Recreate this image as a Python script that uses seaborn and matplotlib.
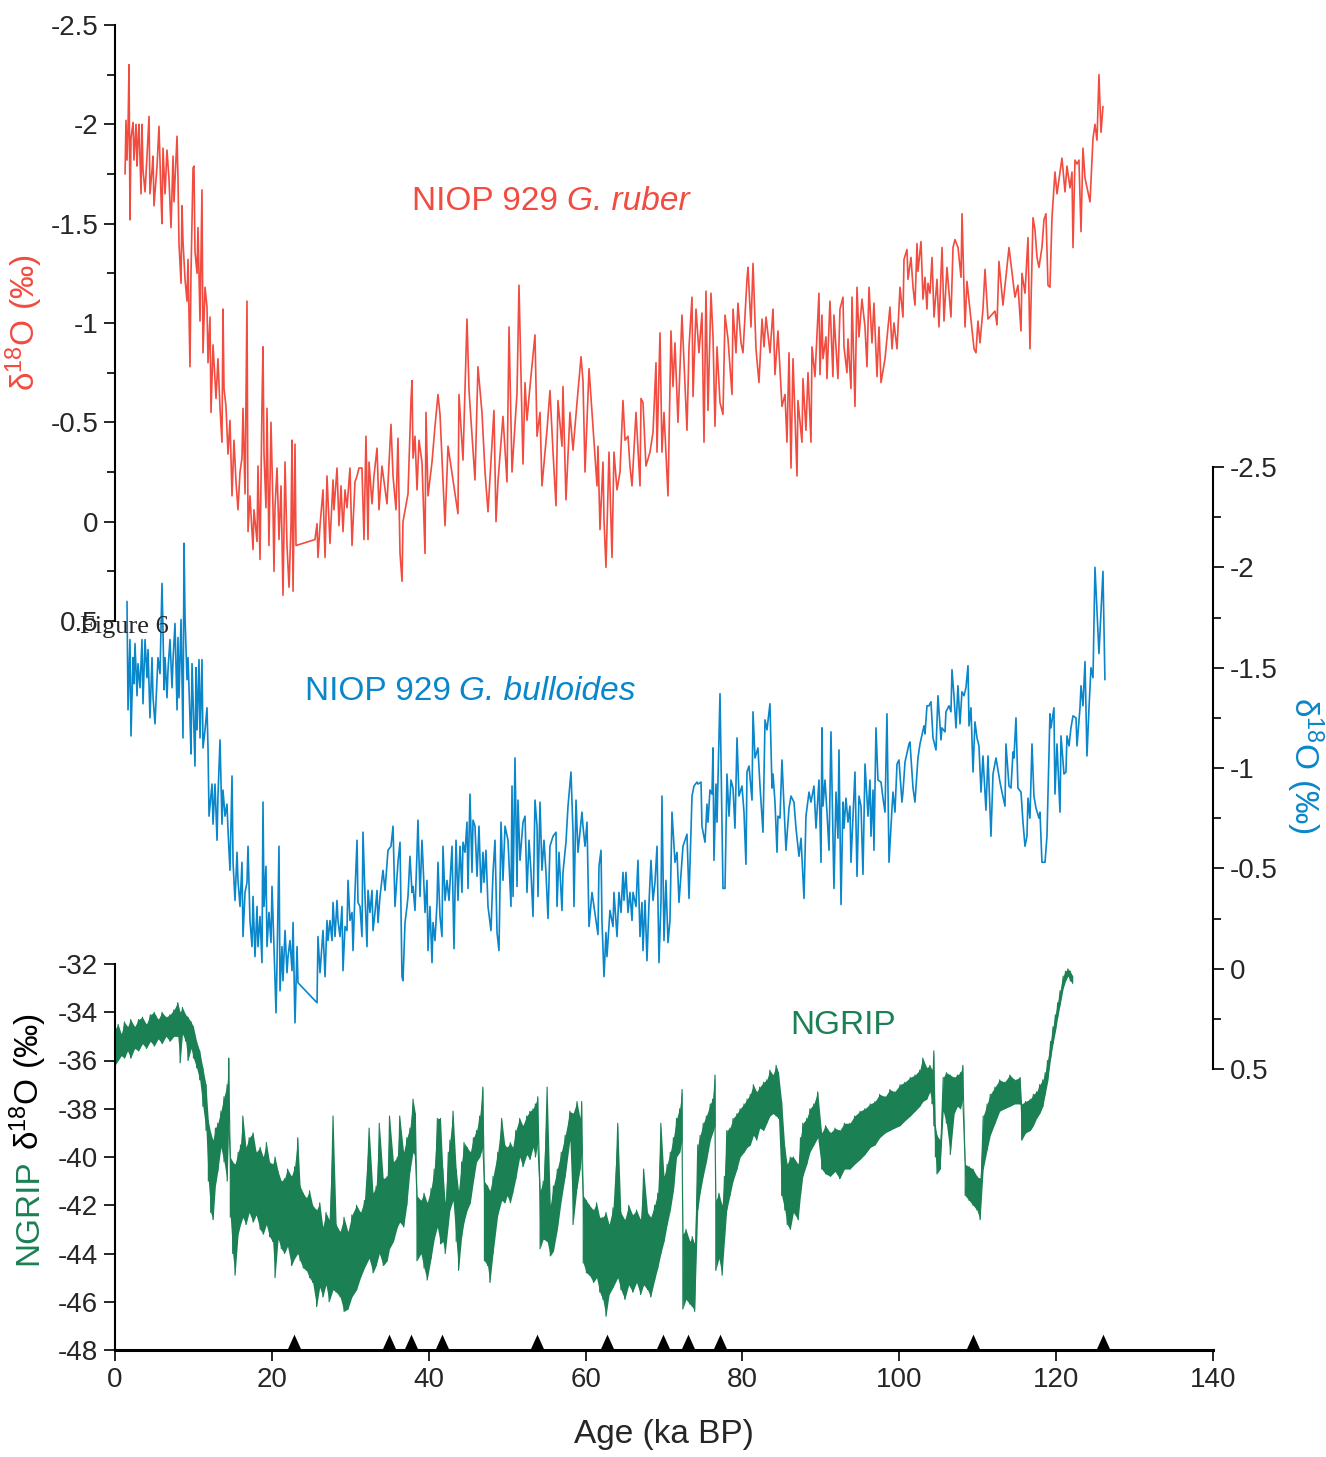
import numpy as np
import matplotlib.pyplot as plt
import seaborn as sns
from matplotlib.path import Path
from matplotlib.ticker import MultipleLocator, FuncFormatter

sns.set_style('ticks')
plt.rcParams['font.family'] = ['Liberation Sans', 'DejaVu Sans']
plt.rcParams['mathtext.fontset'] = 'custom'
plt.rcParams['mathtext.rm'] = 'Liberation Sans'
plt.rcParams['mathtext.it'] = 'Liberation Sans:italic'
plt.rcParams['axes.unicode_minus'] = False

RED = '#F24B3F'
BLUE = '#0A86CA'
GREEN = '#1B8054'

# --- NIOP 929 G. ruber (age ka BP, d18O permil) ---
red_age = [
    1.28, 1.40, 1.53, 1.66, 1.79, 1.91, 2.04, 2.30, 2.42, 2.68,
    2.81, 2.93, 3.06, 3.32, 3.44, 3.57, 3.83, 4.08, 4.34, 4.46,
    4.72, 4.85, 4.97, 5.36, 5.61, 5.87, 5.99, 6.12, 6.38, 6.63,
    6.89, 7.14, 7.40, 7.52, 7.91, 8.03, 8.16, 8.42, 8.54, 8.67,
    8.93, 9.18, 9.31, 9.56, 9.69, 9.95, 10.07, 10.20, 10.46, 10.58,
    10.84, 11.09, 11.22, 11.48, 11.73, 11.86, 12.11, 12.24, 12.50, 12.88,
    13.13, 13.39, 13.64, 13.77, 13.90, 14.15, 14.41, 14.66, 14.92, 15.17,
    15.43, 15.68, 15.94, 16.19, 16.32, 16.58, 16.83, 16.96, 17.21, 17.60,
    17.72, 18.11, 18.23, 18.49, 18.74, 18.87, 19.00, 19.25, 19.38, 19.63,
    19.89, 20.15, 20.27, 20.40, 20.66, 20.91, 21.17, 21.42, 21.68, 21.93,
    22.19, 22.44, 22.57, 22.70, 22.95, 23.08, 25.50, 25.76, 25.88, 26.14,
    26.52, 26.78, 27.03, 27.41, 27.80, 27.92, 28.31, 28.56, 28.82, 29.07,
    29.33, 29.58, 29.96, 30.22, 30.60, 30.86, 31.11, 31.49, 31.75, 32.00,
    32.26, 32.39, 32.77, 33.02, 33.41, 33.66, 34.04, 34.68, 35.19, 35.45,
    35.83, 36.08, 36.34, 36.60, 36.72, 37.36, 37.74, 37.87, 38.00, 38.25,
    38.51, 38.76, 39.14, 39.53, 39.65, 39.91, 40.42, 40.80, 41.18, 41.44,
    42.08, 42.46, 43.73, 43.86, 44.37, 44.88, 45.14, 45.90, 46.28, 46.79,
    47.18, 47.56, 48.32, 48.58, 48.83, 49.47, 49.98, 50.24, 50.62, 51.26,
    51.51, 52.02, 52.28, 52.53, 52.91, 53.55, 53.81, 54.19, 54.44, 55.08,
    55.46, 55.85, 56.23, 56.48, 56.99, 57.12, 57.50, 58.01, 58.40, 58.91,
    59.42, 59.67, 59.93, 60.44, 61.46, 61.58, 61.84, 62.22, 62.35, 62.60,
    62.99, 63.37, 63.62, 64.01, 64.39, 64.77, 65.03, 65.41, 65.66, 65.92,
    66.43, 66.94, 67.07, 67.32, 67.70, 68.21, 68.60, 68.98, 69.11, 69.49,
    69.74, 70.00, 70.51, 70.89, 71.15, 71.40, 71.78, 72.29, 72.93, 73.19,
    73.57, 73.70, 74.08, 74.46, 74.84, 75.10, 75.35, 75.61, 75.99, 76.25,
    76.50, 76.76, 77.14, 77.52, 77.78, 78.16, 78.67, 78.80, 79.18, 79.43,
    79.82, 80.07, 80.58, 80.71, 81.09, 81.35, 81.73, 82.11, 82.50, 82.75,
    83.01, 83.52, 83.90, 84.15, 84.53, 85.04, 85.43, 85.68, 85.94, 86.19,
    86.45, 86.96, 87.08, 87.59, 87.72, 88.10, 88.36, 88.74, 88.87, 89.25,
    89.76, 89.89, 90.14, 90.27, 90.65, 90.78, 91.16, 91.54, 91.67, 92.18,
    92.44, 92.82, 92.95, 93.33, 93.46, 93.84, 93.97, 94.35, 94.61, 94.86,
    95.24, 95.63, 95.88, 96.14, 96.52, 96.77, 97.16, 97.41, 97.67, 98.18,
    98.81, 99.07, 99.32, 99.71, 100.09, 100.47, 100.60, 100.98, 101.11, 101.49,
    101.75, 102.00, 102.26, 102.38, 102.77, 103.02, 103.28, 103.53, 103.66, 103.92,
    104.17, 104.43, 104.81, 105.06, 105.45, 105.70, 106.08, 106.59, 106.85, 107.10,
    107.49, 107.87, 108.00, 108.38, 108.63, 109.53, 109.78, 110.03, 110.29, 110.67,
    110.93, 111.31, 112.20, 112.46, 112.71, 113.22, 113.99, 114.75, 115.13, 115.52,
    115.64, 116.03, 116.41, 116.66, 117.05, 117.30, 117.56, 117.81, 118.19, 118.45,
    118.70, 118.96, 119.21, 119.47, 119.85, 120.11, 120.74, 121.13, 121.38, 121.77,
    122.02, 122.15, 122.40, 122.66, 122.91, 123.17, 123.42, 123.68, 124.32, 124.70,
    124.95, 125.21, 125.46, 125.72, 125.97,
]
red_d18o = [
    -1.75, -2.02, -1.82, -1.98, -2.30, -1.52, -1.93, -2.01, -1.82, -2.00,
    -1.79, -1.91, -2.00, -1.65, -2.00, -1.77, -1.66, -1.84, -2.04, -1.65,
    -1.77, -1.84, -1.59, -1.79, -1.99, -1.63, -1.50, -1.88, -1.65, -1.87,
    -1.72, -1.48, -1.84, -1.61, -1.94, -1.73, -1.40, -1.20, -1.59, -1.41,
    -1.22, -1.11, -1.32, -0.78, -1.25, -1.78, -1.79, -1.36, -1.25, -1.48,
    -1.01, -1.67, -0.85, -1.18, -1.08, -0.80, -1.03, -0.55, -0.89, -0.62,
    -0.82, -0.57, -0.40, -1.07, -0.67, -0.58, -0.34, -0.51, -0.13, -0.41,
    -0.20, -0.06, -0.25, -0.32, -0.57, -0.14, -1.11, 0.05, -0.13, 0.14,
    -0.06, 0.10, -0.28, 0.19, -0.58, -0.88, -0.34, -0.07, -0.57, 0.12,
    -0.50, -0.06, 0.25, -0.07, -0.27, 0.09, -0.18, 0.37, -0.30, 0.12,
    0.33, 0.02, -0.41, 0.35, -0.39, 0.12, 0.09, 0.01, 0.18, 0.02,
    -0.16, 0.18, -0.23, 0.11, -0.21, -0.06, -0.27, 0.02, -0.18, 0.05,
    -0.16, -0.07, -0.27, 0.12, -0.20, -0.23, -0.27, -0.27, 0.09, -0.43,
    0.09, -0.30, -0.09, -0.23, -0.37, -0.06, -0.28, -0.09, -0.49, -0.23,
    -0.06, -0.42, 0.16, 0.30, 0.00, -0.14, -0.61, -0.71, -0.32, -0.43,
    -0.16, -0.41, -0.30, 0.16, -0.55, -0.13, -0.30, -0.48, -0.64, -0.54,
    0.02, -0.38, -0.04, -0.64, -0.31, -1.02, -0.66, -0.21, -0.78, -0.55,
    -0.25, -0.05, -0.56, 0.00, -0.20, -0.53, -0.20, -0.98, -0.25, -0.65,
    -1.19, -0.29, -0.70, -0.51, -0.68, -0.94, -0.43, -0.55, -0.18, -0.46,
    -0.66, -0.35, -0.08, -0.61, -0.38, -0.68, -0.11, -0.55, -0.36, -0.60,
    -0.83, -0.71, -0.25, -0.77, -0.18, -0.38, 0.04, -0.30, -0.01, 0.23,
    -0.35, 0.18, -0.35, -0.16, -0.25, -0.61, -0.41, -0.43, -0.28, -0.18,
    -0.55, -0.18, -0.62, -0.60, -0.28, -0.35, -0.45, -0.80, -0.35, -0.95,
    -0.35, -0.55, -0.13, -0.96, -0.68, -0.90, -0.50, -1.04, -0.46, -0.88,
    -1.13, -0.63, -1.07, -0.85, -1.05, -0.40, -1.16, -0.56, -1.15, -0.93,
    -0.48, -0.88, -0.60, -0.54, -1.04, -0.92, -0.64, -1.07, -0.85, -1.10,
    -0.90, -0.85, -1.22, -1.28, -0.98, -1.30, -0.87, -0.70, -1.02, -0.88,
    -1.03, -0.85, -1.07, -0.74, -0.96, -0.58, -0.64, -0.40, -0.85, -0.27,
    -0.82, -0.23, -0.61, -0.40, -0.72, -0.46, -0.75, -0.40, -0.88, -0.73,
    -1.15, -0.74, -1.04, -0.82, -0.93, -0.72, -1.11, -0.73, -1.04, -0.72,
    -1.07, -1.13, -0.88, -0.75, -0.92, -0.67, -1.13, -0.58, -1.18, -0.93,
    -1.12, -0.98, -0.78, -1.18, -0.90, -1.10, -0.73, -0.98, -0.70, -0.82,
    -1.08, -0.87, -1.00, -0.87, -1.18, -1.03, -1.32, -1.37, -1.22, -1.33,
    -1.18, -1.09, -1.40, -1.26, -1.41, -1.12, -1.23, -1.07, -1.20, -1.15,
    -1.33, -1.03, -1.22, -0.98, -1.38, -1.01, -1.28, -1.03, -1.38, -1.42,
    -1.38, -1.23, -1.55, -0.98, -1.21, -0.87, -0.85, -1.01, -0.90, -1.07,
    -1.27, -1.02, -1.06, -0.99, -1.31, -1.09, -1.38, -1.13, -1.19, -0.96,
    -1.25, -1.15, -1.43, -0.87, -1.53, -1.47, -1.33, -1.28, -1.38, -1.52,
    -1.55, -1.19, -1.18, -1.53, -1.76, -1.65, -1.83, -1.66, -1.79, -1.68,
    -1.76, -1.38, -1.82, -1.80, -1.82, -1.46, -1.88, -1.73, -1.61, -1.93,
    -2.00, -1.92, -2.25, -1.96, -2.09,
]

# --- NIOP 929 G. bulloides ---
blue_age = [
    1.53, 1.66, 1.91, 2.04, 2.30, 2.42, 2.55, 2.81, 2.93, 3.19,
    3.44, 3.57, 3.83, 4.08, 4.21, 4.46, 4.72, 4.85, 5.10, 5.36,
    5.48, 5.74, 5.99, 6.12, 6.25, 6.38, 6.63, 6.76, 7.01, 7.27,
    7.40, 7.65, 7.91, 8.03, 8.16, 8.42, 8.54, 8.67, 8.80, 8.93,
    9.18, 9.31, 9.56, 9.69, 9.82, 9.95, 10.20, 10.33, 10.46, 10.71,
    10.84, 11.09, 11.22, 11.48, 11.73, 11.86, 11.99, 12.37, 12.50, 12.75,
    13.01, 13.13, 13.39, 13.64, 13.77, 14.03, 14.28, 14.41, 14.66, 14.92,
    15.05, 15.30, 15.56, 15.68, 15.94, 16.19, 16.32, 16.58, 16.83, 16.96,
    17.21, 17.47, 17.60, 17.85, 18.11, 18.23, 18.49, 18.74, 18.87, 19.00,
    19.25, 19.38, 19.63, 19.89, 20.02, 20.27, 20.53, 20.66, 20.91, 21.04,
    21.29, 21.42, 21.68, 21.93, 22.06, 22.31, 22.57, 22.70, 22.95, 23.21,
    23.33, 25.76, 25.88, 26.14, 26.52, 26.78, 27.03, 27.16, 27.41, 27.67,
    27.80, 28.05, 28.31, 28.43, 28.69, 28.94, 29.07, 29.33, 29.58, 29.71,
    29.96, 30.22, 30.35, 30.60, 30.86, 30.98, 31.24, 31.49, 31.62, 31.88,
    32.13, 32.26, 32.51, 32.77, 32.90, 33.15, 33.41, 33.53, 33.79, 34.17,
    34.43, 34.81, 35.19, 35.45, 35.70, 36.08, 36.34, 36.59, 36.72, 36.98,
    37.23, 37.36, 37.61, 37.87, 38.00, 38.25, 38.51, 38.63, 38.89, 39.14,
    39.27, 39.53, 39.78, 39.91, 40.16, 40.42, 40.55, 40.80, 41.06, 41.18,
    41.44, 41.69, 41.82, 42.08, 42.33, 42.59, 42.97, 43.22, 43.48, 43.73,
    43.99, 44.24, 44.37, 44.63, 44.88, 45.01, 45.26, 45.52, 45.65, 45.90,
    46.16, 46.41, 46.67, 46.92, 47.05, 47.30, 47.56, 47.94, 48.20, 48.45,
    48.71, 48.96, 49.22, 49.47, 49.73, 50.11, 50.49, 50.62, 50.75, 51.00,
    51.26, 51.38, 51.64, 52.02, 52.28, 52.53, 52.79, 53.04, 53.30, 53.55,
    53.81, 53.93, 54.19, 54.44, 54.70, 54.95, 55.21, 55.46, 55.85, 56.23,
    56.36, 56.61, 56.99, 57.12, 57.50, 57.76, 58.14, 58.40, 58.52, 58.78,
    59.03, 59.54, 59.67, 59.93, 60.18, 60.44, 60.82, 61.58, 61.71, 61.97,
    62.09, 62.35, 62.60, 62.73, 63.11, 63.50, 63.62, 64.01, 64.26, 64.52,
    64.77, 64.90, 65.15, 65.41, 65.66, 65.92, 66.05, 66.43, 66.68, 66.94,
    67.19, 67.32, 67.58, 67.83, 68.09, 68.34, 68.60, 68.85, 69.11, 69.36,
    69.62, 69.74, 70.00, 70.25, 70.51, 70.76, 71.02, 71.40, 71.66, 71.91,
    72.42, 72.93, 73.19, 73.57, 73.82, 74.21, 74.33, 74.72, 74.84, 75.23,
    75.48, 75.61, 75.86, 76.12, 76.25, 76.37, 76.63, 76.76, 77.14, 77.52,
    77.78, 78.03, 78.29, 78.54, 78.80, 79.05, 79.31, 79.56, 79.94, 80.20,
    80.45, 80.58, 80.84, 81.22, 81.35, 81.60, 81.98, 82.24, 82.62, 82.88,
    83.13, 83.51, 83.77, 83.90, 84.15, 84.41, 84.53, 84.79, 85.04, 85.30,
    85.55, 85.94, 86.19, 86.57, 86.83, 87.21, 87.47, 87.85, 88.10, 88.49,
    88.74, 89.12, 89.38, 89.76, 90.02, 90.14, 90.27, 90.53, 90.78, 91.04,
    91.29, 91.67, 91.93, 92.18, 92.31, 92.57, 92.82, 92.95, 93.20, 93.46,
    93.71, 93.84, 94.10, 94.35, 94.61, 94.86, 95.12, 95.37, 95.63, 96.01,
    96.26, 96.39, 96.65, 96.77, 97.03, 97.28, 97.67, 97.92, 98.18, 98.43,
    98.69, 99.07, 99.20, 99.45, 99.71, 99.96, 100.34, 100.47, 100.73, 101.24,
    101.36, 101.75, 102.00, 102.38, 102.64, 103.15, 103.28, 103.53, 103.79, 104.04,
    104.30, 104.68, 104.93, 105.32, 105.44, 105.83, 105.95, 106.34, 106.59, 106.72,
    106.97, 107.23, 107.48, 107.74, 107.99, 108.25, 108.50, 108.76, 108.89, 109.14,
    109.40, 109.65, 109.91, 110.16, 110.42, 110.67, 111.05, 111.31, 111.69, 111.95,
    112.33, 112.84, 113.09, 113.48, 113.60, 113.99, 114.24, 114.50, 114.62, 114.88,
    115.13, 115.52, 115.77, 116.03, 116.28, 116.41, 116.66, 116.92, 117.17, 117.43,
    117.81, 117.94, 118.19, 118.58, 118.83, 119.21, 119.34, 119.72, 119.85, 120.11,
    120.49, 120.62, 121.00, 121.25, 121.38, 121.64, 121.89, 122.15, 122.53, 122.66,
    123.04, 123.17, 123.42, 123.68, 123.93, 124.19, 124.44, 124.70, 124.95, 125.20,
    125.46, 125.97, 126.22,
]
blue_d18o = [
    -1.83, -1.29, -1.64, -1.16, -1.55, -1.42, -1.62, -1.36, -1.52, -1.40,
    -1.64, -1.32, -1.64, -1.45, -1.59, -1.25, -1.55, -1.35, -1.22, -1.44,
    -1.55, -1.47, -1.92, -1.69, -1.39, -1.55, -1.35, -1.49, -1.64, -1.40,
    -1.54, -1.72, -1.29, -1.65, -1.35, -1.74, -1.44, -1.15, -2.12, -1.75,
    -1.44, -1.55, -1.25, -1.07, -1.52, -1.35, -1.01, -1.50, -1.19, -1.54,
    -1.15, -1.54, -1.10, -1.19, -1.30, -1.10, -0.76, -0.92, -0.72, -0.92,
    -0.64, -0.86, -1.14, -0.72, -0.89, -0.76, -0.82, -0.69, -0.49, -0.96,
    -0.53, -0.34, -0.58, -0.44, -0.31, -0.53, -0.16, -0.38, -0.43, -0.61,
    -0.24, -0.11, -0.36, -0.06, -0.31, -0.11, -0.26, -0.03, -0.83, -0.31,
    -0.51, -0.11, -0.28, -0.13, -0.41, -0.11, 0.22, -0.03, -0.61, 0.11,
    -0.11, 0.06, -0.19, 0.02, -0.06, -0.14, 0.01, -0.23, 0.27, -0.11,
    0.07, 0.17, -0.16, 0.02, -0.19, 0.04, -0.24, -0.14, -0.24, -0.14,
    -0.33, -0.16, -0.34, -0.24, -0.16, -0.31, 0.01, -0.21, -0.19, -0.44,
    -0.24, -0.28, -0.09, -0.38, -0.64, -0.33, -0.31, -0.16, -0.68, -0.36,
    -0.11, -0.39, -0.28, -0.39, -0.19, -0.28, -0.39, -0.23, -0.36, -0.49,
    -0.39, -0.59, -0.61, -0.71, -0.31, -0.53, -0.63, 0.04, 0.06, -0.23,
    -0.31, -0.36, -0.56, -0.38, -0.41, -0.29, -0.58, -0.74, -0.36, -0.64,
    -0.53, -0.28, -0.44, -0.09, -0.31, -0.03, -0.23, -0.14, -0.33, -0.53,
    -0.26, -0.16, -0.61, -0.34, -0.44, -0.34, -0.61, -0.10, -0.64, -0.34,
    -0.61, -0.38, -0.63, -0.58, -0.73, -0.40, -0.87, -0.48, -0.74, -0.71,
    -0.46, -0.71, -0.38, -0.58, -0.43, -0.59, -0.31, -0.19, -0.48, -0.64,
    -0.18, -0.09, -0.73, -0.44, -0.71, -0.64, -0.31, -0.91, -0.36, -1.05,
    -0.41, -0.84, -0.54, -0.73, -0.76, -0.38, -0.64, -0.48, -0.26, -0.84,
    -0.71, -0.36, -0.83, -0.49, -0.64, -0.48, -0.25, -0.61, -0.66, -0.68,
    -0.31, -0.58, -0.29, -0.48, -0.63, -0.81, -0.98, -0.68, -0.31, -0.84,
    -0.58, -0.78, -0.71, -0.61, -0.73, -0.21, -0.38, -0.17, -0.51, -0.59,
    -0.24, 0.04, -0.18, -0.06, -0.29, -0.21, -0.38, -0.16, -0.38, -0.28,
    -0.48, -0.34, -0.48, -0.28, -0.38, -0.24, -0.38, -0.31, -0.54, -0.16,
    -0.33, -0.09, -0.34, -0.04, -0.33, -0.54, -0.34, -0.43, -0.61, -0.03,
    -0.34, -0.86, -0.14, -0.44, -0.13, -0.24, -0.78, -0.53, -0.58, -0.33,
    -0.61, -0.67, -0.35, -0.86, -0.91, -0.93, -0.92, -0.93, -0.71, -0.63,
    -0.82, -0.73, -0.89, -0.87, -1.10, -0.54, -0.92, -0.73, -1.37, -0.40,
    -0.40, -0.97, -0.76, -0.94, -0.90, -0.70, -1.15, -0.86, -0.91, -0.78,
    -0.52, -0.98, -1.01, -0.84, -1.28, -1.05, -1.10, -0.91, -0.68, -1.24,
    -1.19, -1.32, -0.90, -0.97, -0.83, -0.58, -0.76, -0.75, -1.04, -0.81,
    -0.59, -0.80, -0.86, -0.83, -0.70, -0.56, -0.65, -0.35, -0.76, -0.88,
    -0.83, -0.91, -0.70, -0.94, -0.53, -1.20, -0.81, -0.94, -0.78, -0.59,
    -1.18, -0.40, -0.88, -0.65, -1.09, -0.32, -0.83, -0.70, -0.85, -0.73,
    -0.81, -0.53, -0.76, -0.98, -0.46, -0.86, -0.81, -0.47, -1.02, -0.76,
    -0.94, -0.66, -0.89, -0.59, -1.20, -0.94, -0.93, -0.85, -0.78, -1.27,
    -0.53, -0.80, -0.88, -0.78, -1.02, -1.04, -0.83, -0.88, -1.03, -1.12,
    -1.13, -0.90, -0.83, -1.05, -1.12, -1.21, -1.17, -1.31, -1.31, -1.33,
    -1.15, -1.09, -1.36, -1.14, -1.20, -1.18, -1.28, -1.31, -1.28, -1.49,
    -1.36, -1.20, -1.41, -1.22, -1.38, -1.36, -1.40, -1.51, -1.21, -1.30,
    -0.98, -1.23, -1.15, -1.11, -0.88, -1.06, -0.79, -1.06, -0.66, -0.97,
    -1.05, -0.93, -0.88, -0.81, -1.12, -0.91, -0.90, -1.08, -1.05, -1.25,
    -0.90, -0.88, -0.73, -0.61, -0.66, -0.85, -0.75, -1.12, -0.86, -0.80,
    -0.75, -0.78, -0.53, -0.53, -0.66, -1.27, -1.20, -1.30, -0.87, -1.12,
    -0.78, -1.16, -0.97, -0.98, -1.16, -1.11, -1.20, -1.26, -1.25, -1.11,
    -1.30, -1.41, -1.31, -1.53, -1.06, -1.30, -1.50, -1.45, -2.00, -1.79,
    -1.57, -1.98, -1.44,
]

# --- NGRIP: upper / lower edge of the dense record, read at each age ---
ngrip_age = [
    0.0, 0.4, 0.8, 1.2, 1.6, 2.0, 2.5, 3.0, 3.5, 4.0,
    4.5, 5.0, 5.5, 6.0, 6.5, 7.0, 7.5, 8.0, 8.3, 8.6,
    9.0, 9.3, 9.7, 10.0, 10.4, 10.8, 11.2, 11.6, 11.9, 12.2,
    12.5, 12.8, 13.1, 13.5, 13.9, 14.3, 14.5, 14.7, 15.0, 15.3,
    15.7, 16.0, 16.3, 16.7, 17.1, 17.6, 18.0, 18.5, 18.9, 19.3,
    19.7, 20.1, 20.4, 20.8, 21.2, 21.6, 22.0, 22.5, 22.9, 23.3,
    23.6, 24.0, 24.4, 24.8, 25.2, 25.7, 26.1, 26.5, 26.9, 27.3,
    27.8, 28.2, 28.7, 29.2, 29.7, 30.2, 30.8, 31.3, 31.8, 32.4,
    32.9, 33.3, 33.7, 34.2, 34.7, 35.0, 35.5, 36.0, 36.3, 36.8,
    37.2, 37.6, 38.0, 38.3, 38.5, 39.0, 39.4, 39.8, 40.3, 40.7,
    41.1, 41.5, 41.8, 42.1, 42.5, 42.7, 43.1, 43.5, 43.8, 44.2,
    44.5, 44.9, 45.3, 45.7, 46.1, 46.5, 46.9, 47.1, 47.5, 47.8,
    48.2, 48.8, 49.3, 49.7, 50.0, 50.4, 50.7, 51.1, 51.6, 52.0,
    52.5, 52.9, 53.3, 53.6, 53.9, 54.2, 54.6, 55.1, 55.5, 55.9,
    56.4, 56.9, 57.4, 58.0, 58.4, 58.9, 59.3, 59.5, 59.7, 60.1,
    60.5, 61.0, 61.4, 61.8, 62.2, 62.6, 63.0, 63.5, 64.1, 64.5,
    65.0, 65.5, 66.0, 66.5, 67.0, 67.4, 67.9, 68.3, 68.8, 69.2,
    69.6, 70.0, 70.4, 70.8, 71.2, 71.6, 72.0, 72.3, 72.4, 72.8,
    73.3, 73.6, 73.9, 74.3, 74.6, 75.0, 75.4, 75.9, 76.2, 76.5,
    76.6, 77.0, 77.4, 77.7, 78.0, 78.4, 78.8, 79.3, 79.7, 80.2,
    80.6, 81.0, 81.4, 81.8, 82.2, 82.7, 83.1, 83.5, 83.9, 84.3,
    84.6, 85.0, 85.4, 85.7, 86.1, 86.5, 87.1, 87.4, 87.7, 88.2,
    88.6, 89.1, 89.6, 90.1, 90.6, 91.2, 91.8, 92.4, 93.0, 93.7,
    94.3, 95.0, 95.6, 96.3, 96.9, 97.5, 98.2, 98.8, 99.4, 100.1,
    100.7, 101.4, 102.0, 102.6, 103.0, 103.5, 103.9, 104.2, 104.4, 104.6,
    104.8, 105.2, 105.6, 106.0, 106.5, 107.0, 107.4, 107.8, 108.1, 108.4,
    108.9, 109.4, 109.9, 110.3, 110.7, 111.2, 111.6, 112.2, 112.8, 113.4,
    114.1, 114.7, 115.4, 115.6, 116.1, 116.7, 117.1, 117.5, 117.9, 118.3,
    118.6, 118.9, 119.3, 119.6, 119.9, 120.2, 120.5, 120.9, 121.2, 121.5,
    121.8, 122.1,
]
ngrip_high = [
    -34.7, -34.5, -34.9, -34.4, -34.6, -34.3, -34.6, -34.3, -34.2, -34.5,
    -34.1, -34.0, -34.3, -34.0, -34.2, -34.1, -33.9, -33.6, -34.0, -33.8,
    -34.1, -34.2, -34.4, -34.6, -35.2, -35.6, -36.3, -37.0, -38.5, -39.0,
    -39.3, -38.8, -38.6, -38.1, -37.5, -37.0, -35.9, -40.0, -40.2, -40.3,
    -39.8, -39.5, -38.3, -39.6, -39.2, -39.0, -39.8, -39.6, -40.0, -39.4,
    -40.2, -40.3, -40.0, -40.6, -41.0, -40.9, -40.5, -40.8, -40.4, -39.2,
    -41.2, -41.5, -41.7, -41.4, -42.0, -42.2, -41.9, -42.9, -42.3, -42.6,
    -38.3, -42.8, -43.1, -42.5, -43.1, -42.4, -42.0, -42.3, -41.8, -38.8,
    -41.5, -41.2, -38.6, -40.9, -40.8, -38.3, -40.2, -40.0, -38.3, -39.8,
    -39.2, -38.8, -37.6, -38.2, -41.6, -41.8, -41.5, -41.9, -41.3, -40.5,
    -38.4, -38.4, -40.5, -41.9, -39.8, -39.3, -38.1, -40.5, -41.4, -40.2,
    -39.4, -39.6, -39.8, -39.2, -38.9, -38.3, -37.1, -41.0, -41.2, -41.4,
    -40.8, -39.8, -38.4, -39.5, -39.6, -39.4, -39.6, -38.9, -38.4, -38.7,
    -38.3, -38.1, -38.0, -37.8, -37.5, -41.4, -41.0, -37.1, -42.0, -41.2,
    -40.5, -39.8, -39.1, -38.1, -38.2, -37.7, -38.4, -37.7, -41.6, -41.8,
    -42.0, -42.2, -41.9, -42.5, -42.5, -42.3, -42.8, -42.1, -38.6, -42.3,
    -42.6, -42.0, -42.4, -42.2, -42.6, -40.5, -42.3, -42.5, -42.0, -41.5,
    -38.6, -40.8, -40.3, -39.8, -39.2, -38.4, -38.0, -37.2, -43.2, -43.0,
    -43.5, -43.3, -43.6, -39.5, -39.1, -38.6, -38.3, -37.8, -37.6, -36.6,
    -41.8, -41.5, -42.0, -40.8, -38.9, -38.8, -38.4, -38.2, -38.0, -37.8,
    -37.6, -37.4, -37.0, -37.3, -37.1, -36.9, -36.8, -36.4, -36.6, -36.2,
    -36.5, -37.7, -39.6, -40.3, -40.0, -40.0, -40.3, -39.2, -38.6, -38.4,
    -38.0, -37.8, -37.3, -39.0, -38.7, -39.0, -38.8, -38.9, -38.6, -38.6,
    -38.3, -38.1, -38.0, -37.8, -37.7, -37.4, -37.5, -37.2, -37.3, -37.0,
    -36.9, -36.7, -36.6, -36.4, -35.9, -36.3, -36.2, -36.4, -35.6, -38.7,
    -39.1, -39.3, -36.7, -36.5, -36.6, -36.7, -36.6, -36.5, -36.2, -40.3,
    -40.4, -40.5, -40.8, -40.9, -38.3, -37.8, -37.4, -37.1, -36.8, -36.9,
    -36.6, -36.8, -36.7, -37.8, -37.7, -37.6, -37.4, -37.3, -37.0, -36.8,
    -36.5, -36.0, -35.2, -34.6, -34.1, -33.6, -33.1, -32.5, -32.3, -32.2,
    -32.3, -32.5,
]
ngrip_low = [
    -36.2, -36.0, -35.8, -35.9, -35.6, -35.9, -35.5, -35.6, -35.3, -35.5,
    -35.2, -35.4, -35.1, -35.3, -35.0, -35.2, -35.0, -35.0, -36.1, -34.9,
    -35.2, -36.0, -35.5, -35.9, -36.3, -36.8, -37.9, -38.9, -41.0, -42.3,
    -42.6, -41.2, -40.6, -39.6, -40.2, -41.0, -38.5, -42.5, -44.0, -44.9,
    -43.2, -42.8, -42.5, -42.8, -42.3, -42.7, -42.4, -43.0, -43.2, -42.8,
    -43.3, -43.5, -45.0, -43.4, -43.8, -44.0, -43.7, -44.5, -44.2, -44.0,
    -44.3, -44.6, -44.7, -45.0, -45.2, -46.2, -45.4, -45.8, -45.3, -46.0,
    -45.5, -45.6, -45.8, -46.4, -46.3, -45.8, -45.5, -45.0, -44.6, -44.2,
    -44.8, -44.5, -44.0, -44.5, -44.3, -43.8, -43.5, -42.9, -42.7, -42.9,
    -42.0, -40.6, -39.8, -40.0, -44.3, -44.0, -44.6, -45.1, -44.2, -43.4,
    -42.9, -43.6, -43.5, -44.0, -42.8, -42.2, -41.8, -43.5, -44.7, -43.3,
    -42.7, -42.2, -41.9, -41.0, -40.2, -40.0, -39.6, -44.3, -44.5, -45.2,
    -44.0, -42.4, -41.8, -41.9, -41.6, -41.9, -41.5, -40.9, -40.0, -40.4,
    -39.9, -40.1, -39.6, -40.0, -39.4, -43.8, -43.4, -43.5, -44.1, -43.9,
    -43.0, -41.8, -40.8, -39.3, -42.8, -41.3, -40.5, -39.8, -44.4, -44.8,
    -44.9, -45.2, -45.0, -45.6, -45.9, -46.6, -45.7, -45.4, -45.0, -45.5,
    -45.9, -45.3, -45.6, -45.2, -45.7, -45.3, -45.5, -45.8, -45.1, -44.6,
    -44.0, -43.5, -42.8, -42.2, -41.4, -40.0, -39.8, -39.3, -46.3, -45.9,
    -46.1, -46.2, -46.4, -42.2, -41.5, -40.8, -40.2, -39.3, -39.0, -38.7,
    -44.7, -44.2, -44.9, -43.5, -42.2, -41.6, -41.0, -40.5, -40.0, -39.8,
    -39.6, -39.5, -39.1, -39.3, -38.8, -38.9, -38.6, -38.3, -38.2, -38.3,
    -38.4, -41.6, -42.2, -42.8, -43.0, -42.3, -42.6, -41.6, -40.8, -40.3,
    -39.8, -39.5, -39.2, -40.5, -40.7, -40.8, -40.6, -40.9, -40.5, -40.5,
    -40.3, -40.1, -39.9, -39.6, -39.5, -39.2, -39.0, -38.9, -38.8, -38.7,
    -38.5, -38.3, -38.1, -37.9, -37.7, -37.6, -37.3, -37.8, -38.7, -40.0,
    -40.7, -40.5, -38.1, -38.6, -39.9, -38.2, -37.9, -38.0, -37.6, -41.6,
    -41.8, -42.0, -42.2, -42.6, -40.5, -39.7, -39.1, -38.6, -38.1, -38.0,
    -37.9, -37.8, -37.8, -39.3, -39.0, -38.9, -38.7, -38.4, -38.2, -37.9,
    -37.4, -36.9, -35.9, -35.3, -34.8, -34.2, -33.7, -33.0, -32.7, -32.5,
    -32.7, -32.8,
]

# tie points (triangles on the age axis)
tie_ages = [22.8, 34.9, 37.7, 41.7, 53.8, 62.7, 69.9, 73.1, 77.1, 109.4, 126.0]

# ---------------- figure ----------------
W, H = 1326, 1457
fig = plt.figure(figsize=(W / 100, H / 100), dpi=100)


def px_axes(x0, y0, x1, y1):
    return fig.add_axes([x0 / W, 1 - y1 / H, (x1 - x0) / W, (y1 - y0) / H])


ax_g = px_axes(115, 964, 1213, 1350)
ax_b = px_axes(115, 467, 1213, 1069)
ax_r = px_axes(115, 25, 1213, 621)

fmt = FuncFormatter(lambda v, p: f'{v + 0:g}')
for ax in (ax_g, ax_b, ax_r):
    ax.set_facecolor('none')
    ax.set_xlim(0, 140)
    for s in ax.spines.values():
        s.set_linewidth(1.5)
        s.set_color('black')

TICK_FS = 20
LAB_FS = 24


def label_with_italic(ax, x, y, plain, italic, color):
    # plain part followed by an italic species name
    t = ax.text(x, y, plain, color=color, fontsize=LAB_FS, va='center', ha='left')
    ax.annotate(italic, xy=(1, 0.5), xycoords=t, xytext=(6, 0),
                textcoords='offset points', va='center', ha='left',
                color=color, fontsize=LAB_FS, style='italic')


# red: G. ruber
sns.lineplot(x=red_age, y=red_d18o, ax=ax_r, color=RED, lw=1.2,
             estimator=None, sort=False)
ax_r.set_ylim(0.5, -2.5)
for s in ('top', 'right', 'bottom'):
    ax_r.spines[s].set_visible(False)
ax_r.xaxis.set_visible(False)
ax_r.yaxis.set_major_locator(MultipleLocator(0.5))
ax_r.yaxis.set_minor_locator(MultipleLocator(0.25))
ax_r.yaxis.set_major_formatter(fmt)
ax_r.tick_params(axis='y', which='major', length=8, width=1.4, labelsize=TICK_FS, pad=4)
ax_r.tick_params(axis='y', which='minor', length=6, width=1.4)
ax_r.set_ylabel('δ$^{18}$O (‰)', color=RED, fontsize=LAB_FS)
ax_r.yaxis.set_label_coords(-0.064, 0.5)
label_with_italic(ax_r, 37.9, -1.61, 'NIOP 929', 'G. ruber', RED)

# blue: G. bulloides
sns.lineplot(x=blue_age, y=blue_d18o, ax=ax_b, color=BLUE, lw=1.2,
             estimator=None, sort=False)
ax_b.set_ylim(0.5, -2.5)
for s in ('top', 'left', 'bottom'):
    ax_b.spines[s].set_visible(False)
ax_b.xaxis.set_visible(False)
ax_b.yaxis.tick_right()
ax_b.yaxis.set_label_position('right')
ax_b.yaxis.set_major_locator(MultipleLocator(0.5))
ax_b.yaxis.set_minor_locator(MultipleLocator(0.25))
ax_b.yaxis.set_major_formatter(fmt)
ax_b.tick_params(axis='y', which='major', length=8, width=1.4, labelsize=TICK_FS, pad=4)
ax_b.tick_params(axis='y', which='minor', length=6, width=1.4)
ax_b.set_ylabel('δ$^{18}$O (‰)', color=BLUE, fontsize=LAB_FS, rotation=270, va='center')
ax_b.yaxis.set_label_coords(1.084, 0.505)
label_with_italic(ax_b, 24.2, -1.38, 'NIOP 929', 'G. bulloides', BLUE)

# green: NGRIP dense record, band between its edges plus a zigzag through them
zig_x = np.repeat(ngrip_age, 2)
zig_y = np.column_stack([ngrip_high, ngrip_low]).ravel()
ax_g.fill_between(ngrip_age, ngrip_low, ngrip_high, color=GREEN, lw=0)
sns.lineplot(x=zig_x, y=zig_y, ax=ax_g, color=GREEN, lw=0.8,
             estimator=None, sort=False)
ax_g.set_ylim(-48, -32)
for s in ('top', 'right'):
    ax_g.spines[s].set_visible(False)
ax_g.spines['bottom'].set_linewidth(2.2)
ax_g.xaxis.set_major_locator(MultipleLocator(20))
ax_g.yaxis.set_major_locator(MultipleLocator(2))
ax_g.yaxis.set_major_formatter(fmt)
ax_g.tick_params(axis='both', which='major', length=8, width=1.4, labelsize=TICK_FS, pad=4)
ax_g.set_xlabel('Age (ka BP)', fontsize=LAB_FS)
ax_g.xaxis.set_label_coords(0.5, -0.18)
ax_g.set_ylabel('')
t1 = ax_g.text(-0.079, 0.22, 'NGRIP', color=GREEN, fontsize=LAB_FS, rotation=90,
               ha='center', va='bottom', transform=ax_g.transAxes)
ax_g.annotate('δ$^{18}$O (‰)', xy=(0.5, 1), xycoords=t1, xytext=(0, 7),
              textcoords='offset points', ha='center', va='bottom',
              rotation=90, fontsize=LAB_FS, color='black')
ax_g.text(86.1, -34.53, 'NGRIP', color=GREEN, fontsize=LAB_FS, va='center', ha='left')

# tie-point triangles sitting on the age axis
tri = Path([(-0.45, 0), (0.45, 0), (0, 1), (-0.45, 0)],
           [Path.MOVETO, Path.LINETO, Path.LINETO, Path.CLOSEPOLY])
ax_g.scatter(tie_ages, [ax_g.get_ylim()[0]] * len(tie_ages), marker=tri, s=520,
             color='black', clip_on=False, zorder=6, linewidths=0)

fig.text(80 / W, 1 - 627 / H, 'Figure 6', family='Liberation Serif',
         fontsize=19, va='center', ha='left')

fig.savefig('out.png', dpi=100)
